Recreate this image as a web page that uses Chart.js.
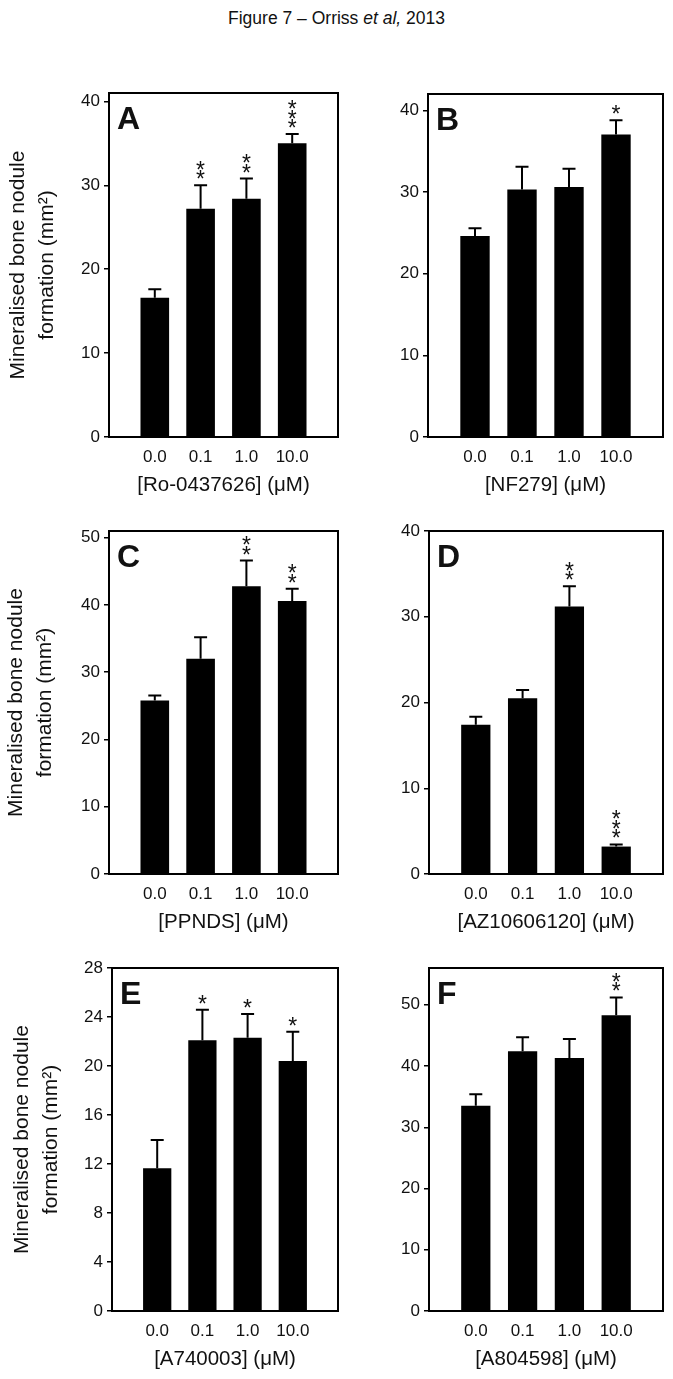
<!DOCTYPE html>
<html lang="en">
<head>
<meta charset="UTF-8">
<title>Figure 7 – Orriss et al, 2013</title>
<script src="https://cdn.jsdelivr.net/npm/chart.js"></script>
<style>
  body { margin: 0; width: 673px; height: 1379px; position: relative; background: #fff;
         font-family: "Liberation Sans", Arial, sans-serif; color: #111; }
  #title { position: absolute; left: 0; width: 673px; text-align: center; top: 8px; font-size: 17.5px; white-space: nowrap; }
  canvas { position: absolute; }
</style>
</head>
<body>
<div id="title">Figure 7 – Orriss <i>et al,</i> 2013</div>
<canvas id="cA" width="348" height="460" style="left:0;top:40px"></canvas>
<canvas id="cB" width="325" height="460" style="left:348px;top:40px"></canvas>
<canvas id="cC" width="348" height="437" style="left:0;top:500px"></canvas>
<canvas id="cD" width="325" height="437" style="left:348px;top:500px"></canvas>
<canvas id="cE" width="348" height="437" style="left:0;top:937px"></canvas>
<canvas id="cF" width="325" height="437" style="left:348px;top:937px"></canvas>

<script>
// doses, same for every panel
const doses = ['0.0', '0.1', '1.0', '10.0'];

// bar heights (mean) and upper error (SEM)
const valuesA = [16.6, 27.2, 28.4, 35.0];
const errA    = [1.0, 2.8, 2.4, 1.1];
const starsA  = ['', '**', '**', '***'];

const valuesB = [24.6, 30.3, 30.6, 37.05];
const errB    = [0.95, 2.8, 2.25, 1.75];
const starsB  = ['', '', '', '*'];

const valuesC = [25.8, 32.0, 42.8, 40.6];
const errC    = [0.75, 3.2, 3.8, 1.8];
const starsC  = ['', '', '**', '**'];

const valuesD = [17.4, 20.5, 31.2, 3.2];
const errD    = [0.95, 0.95, 2.35, 0.25];
const starsD  = ['', '', '**', '***'];

const valuesE = [11.65, 22.1, 22.3, 20.4];
const errE    = [2.3, 2.5, 1.95, 2.4];
const starsE  = ['', '*', '*', '*'];

const valuesF = [33.5, 42.4, 41.3, 48.3];
const errF    = [1.9, 2.3, 3.1, 2.9];
const starsF  = ['', '', '', '**'];

// axis ranges
const yMax  = { A: 41, B: 42, C: 51, D: 40, E: 28, F: 56 };
const yStep = { A: 10, B: 10, C: 10, D: 10, E: 4, F: 10 };

const xTitles = {
  A: '[Ro-0437626] (μM)', B: '[NF279] (μM)', C: '[PPNDS] (μM)',
  D: '[AZ10606120] (μM)', E: '[A740003] (μM)', F: '[A804598] (μM)'
};
const yTitle = ['Mineralised bone nodule', 'formation (mm²)'];

const FONT = '"Liberation Sans", Arial, sans-serif';

// error bars, significance stars, panel letter and the frame
const decorPlugin = {
  id: 'decor',
  afterDraw(chart, args, opts) {
    const { ctx, chartArea: a, scales: { y } } = chart;
    const ds = chart.data.datasets[0];
    const meta = chart.getDatasetMeta(0);
    ctx.save();
    ctx.strokeStyle = '#000';
    ctx.fillStyle = '#111';
    ctx.lineWidth = 2;
    ds.data.forEach((v, i) => {
      if (v == null) return;
      const px = meta.data[i].x;
      const y0 = y.getPixelForValue(v);
      const y1 = y.getPixelForValue(v + ds.errors[i]);
      ctx.beginPath();
      ctx.moveTo(px, y0);
      ctx.lineTo(px, y1);
      ctx.moveTo(px - 6.5, y1);
      ctx.lineTo(px + 6.5, y1);
      ctx.stroke();
      const s = ds.stars[i] || '';
      ctx.font = '23px ' + FONT;
      ctx.textAlign = 'center';
      ctx.textBaseline = 'alphabetic';
      for (let k = 0; k < s.length; k++) {
        const cy = y1 - 11 - k * 9.5;
        ctx.fillText('*', px, cy + 13);
      }
    });
    ctx.font = 'bold 32px ' + FONT;
    ctx.textAlign = 'left';
    ctx.fillText(opts.letter, a.left + 8, a.top + 36);
    ctx.lineWidth = 2;
    ctx.strokeRect(a.left, a.top, a.right - a.left, a.bottom - a.top);
    ctx.restore();
  }
};

function makePanel(id, letter, values, errs, stars, lay) {
  new Chart(document.getElementById(id), {
    type: 'bar',
    data: {
      labels: ['', ...doses, ''],
      datasets: [{
        data: [null, ...values, null],
        errors: [null, ...errs, null],
        stars: ['', ...stars, ''],
        backgroundColor: '#000',
        borderWidth: 0,
        categoryPercentage: 1,
        barPercentage: 0.625
      }]
    },
    options: {
      responsive: false,
      animation: false,
      layout: { autoPadding: false, padding: { top: lay.top, right: lay.right, left: 0, bottom: 0 } },
      plugins: { legend: { display: false }, tooltip: { enabled: false }, decor: { letter } },
      scales: {
        x: {
          offset: false,
          grid: { display: false, drawTicks: false },
          border: { display: false },
          ticks: { color: '#111', font: { family: FONT, size: 17 }, padding: 10, autoSkip: false, maxRotation: 0 },
          title: { display: true, text: xTitles[letter], color: '#111', font: { family: FONT, size: 20.5 }, padding: { top: 0, bottom: 2 } },
          afterFit: s => { s.height = 63; }
        },
        y: {
          min: 0, max: yMax[letter],
          grid: { drawOnChartArea: false, drawTicks: true, tickLength: 5, color: '#000', lineWidth: 1.5 },
          border: { display: false },
          ticks: { stepSize: yStep[letter], includeBounds: false, color: '#111', font: { family: FONT, size: 17 }, padding: 4 },
          title: { display: lay.yTitle, text: yTitle, color: '#111', font: { family: FONT, size: 21, lineHeight: 1.38 }, padding: { top: lay.tpad, bottom: 0 } },
          afterFit: s => { s.width = lay.yw; }
        }
      }
    },
    plugins: [decorPlugin]
  });
}

makePanel('cA', 'A', valuesA, errA, starsA, { top: 53, right: 5, yw: 109, yTitle: true, tpad: 3.5 });
makePanel('cB', 'B', valuesB, errB, starsB, { top: 54, right: 9, yw: 80, yTitle: false, tpad: 0 });
makePanel('cC', 'C', valuesC, errC, starsC, { top: 31, right: 5, yw: 109, yTitle: true, tpad: 1.5 });
makePanel('cD', 'D', valuesD, errD, starsD, { top: 31, right: 10, yw: 81, yTitle: false, tpad: 0 });
makePanel('cE', 'E', valuesE, errE, starsE, { top: 31, right: 5, yw: 112, yTitle: true, tpad: 8 });
makePanel('cF', 'F', valuesF, errF, starsF, { top: 31, right: 9, yw: 81, yTitle: false, tpad: 0 });
</script>
</body>
</html>
